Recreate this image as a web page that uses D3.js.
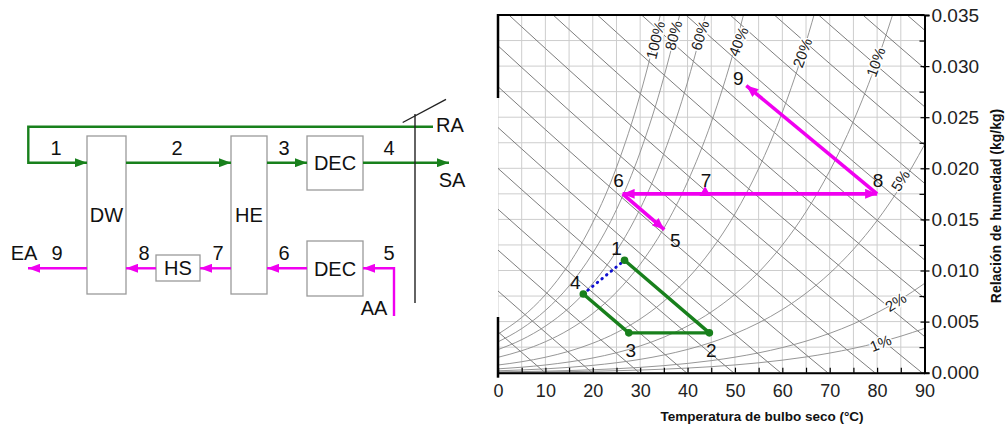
<!DOCTYPE html>
<html><head><meta charset="utf-8">
<script src="https://cdn.jsdelivr.net/npm/d3@7"></script>
<style>
body{margin:0;background:#fff;}
text{font-family:Arial,"Liberation Sans",sans-serif;}
</style>
</head><body>
<svg id="c" width="1005" height="427"></svg>
<script>
// ---------------- DATA ----------------
const xTicks = [0, 10, 20, 30, 40, 50, 60, 70, 80, 90];
const xMinorTicks = [5, 15, 25, 35, 45, 55, 65, 75, 85];
const yTicks = [0, 0.005, 0.010, 0.015, 0.020, 0.025, 0.030, 0.035];
const yTickLabels = ["0.000", "0.005", "0.010", "0.015", "0.020", "0.025", "0.030", "0.035"];
const yMinorTicks = [0.0025, 0.0075, 0.0125, 0.0175, 0.0225, 0.0275, 0.0325];
// saturation pressure of water (kPa) vs temperature (°C), steam tables
const satTemps = [0, 5, 10, 15, 20, 25, 30, 35, 40, 45, 50, 55, 60, 65, 70, 75, 80, 85, 90];
const satPressure = [0.6113, 0.8726, 1.2282, 1.7058, 2.339, 3.169, 4.246, 5.628, 7.384, 9.593, 12.35, 15.76, 19.94, 25.03, 31.19, 38.58, 47.39, 57.83, 70.14];
const rhLevels = [100, 80, 60, 40, 20, 10, 5, 2, 1];
const rhLabelT = [33.2, 37.0, 42.6, 50.7, 64.2, 79.7, 84.9, 83.9, 80.7];
const rhLabelW = [0.03255, 0.0330, 0.0330, 0.0324, 0.0313, 0.0304, 0.0188, 0.0069, 0.0029];
const rhLabelAngle = [-76, -75, -72, -68, -70, -70, -58, -33, -22];
const enthalpyLevels = [10, 20, 30, 40, 50, 60, 70, 80, 90, 100, 110, 120, 130, 140, 150, 160, 170, 180];
const supplyLabels = ["1", "2", "3", "4"];
const supplyT = [26.7, 44.6, 27.6, 18.0];
const supplyW = [0.0110, 0.0039, 0.0039, 0.0077];
const exhaustLabels = ["5", "6", "7", "8", "9"];
const exhaustT = [35.1, 26.3, 43.7, 80.0, 52.4];
const exhaustW = [0.0140, 0.0175, 0.0175, 0.0175, 0.0281];
const P_ATM = 101.325;

// ---------------- SETUP ----------------
const svg = d3.select("#c");
const GREEN = "#18801c", MAG = "#f000f0", BLUE = "#1010d0";
const defs = svg.append("defs");
function arrow(id, color, L, Wd) {
  defs.append("marker").attr("id", id).attr("markerUnits", "userSpaceOnUse")
    .attr("markerWidth", L).attr("markerHeight", Wd).attr("refX", L).attr("refY", Wd / 2)
    .attr("orient", "auto-start-reverse")
    .append("path").attr("d", `M0,0 L${L},${Wd / 2} L0,${Wd} Z`).attr("fill", color);
}
arrow("ag", GREEN, 12, 9);
arrow("am", MAG, 12, 9);
arrow("am2", MAG, 12, 10);

// ---------------- SCHEMATIC ----------------
const sch = svg.append("g");
const boxes = [
  {t: "DW", x: 87, y: 136, w: 39, h: 158},
  {t: "HE", x: 231, y: 136, w: 36, h: 158},
  {t: "DEC", x: 307, y: 136, w: 56, h: 54},
  {t: "DEC", x: 307, y: 241, w: 56, h: 55},
  {t: "HS", x: 156, y: 255, w: 44, h: 26}
];
boxes.forEach(b => {
  sch.append("rect").attr("x", b.x).attr("y", b.y).attr("width", b.w).attr("height", b.h)
    .attr("fill", "#fff").attr("stroke", "#9a9a9a").attr("stroke-width", 1.3);
  sch.append("text").attr("x", b.x + b.w / 2).attr("y", b.y + b.h / 2 + 7.2)
    .attr("text-anchor", "middle").attr("font-size", 20).attr("fill", "#111").text(b.t);
});
const greenPaths = ["M433,126.7 H28.3 V162.7 H87", "M126,162.7 H231", "M267,162.7 H307", "M363,162.7 H449"];
greenPaths.forEach(d => sch.append("path").attr("d", d).attr("fill", "none")
  .attr("stroke", GREEN).attr("stroke-width", 2.4).attr("marker-end", "url(#ag)"));
const magPaths = ["M394,316 V268.3 H363", "M307,268.3 H267", "M231,268.3 H200", "M156,268.3 H126", "M87,268.3 H28"];
magPaths.forEach(d => sch.append("path").attr("d", d).attr("fill", "none")
  .attr("stroke", MAG).attr("stroke-width", 2.4).attr("marker-end", "url(#am)"));
sch.append("line").attr("x1", 415).attr("y1", 114).attr("x2", 415).attr("y2", 303)
  .attr("stroke", "#222").attr("stroke-width", 1.4);
sch.append("line").attr("x1", 402.7).attr("y1", 122.5).attr("x2", 446).attr("y2", 99.3)
  .attr("stroke", "#222").attr("stroke-width", 1.4);
const schLabels = [
  ["1", 56, 155], ["2", 177, 155], ["3", 284, 155], ["4", 389, 155],
  ["RA", 450, 132], ["SA", 452, 187],
  ["EA", 24, 260], ["9", 57, 260], ["8", 144, 260], ["7", 218, 260], ["6", 284, 260], ["5", 389, 260],
  ["AA", 374, 315]
];
schLabels.forEach(l => sch.append("text").attr("x", l[1]).attr("y", l[2])
  .attr("text-anchor", "middle").attr("font-size", 20).attr("fill", "#111").text(l[0]));

// ---------------- CHART ----------------
const X0 = 498, X1 = 924.5, Y0 = 372.7, Y1 = 15;
const x = d3.scaleLinear().domain([0, 90]).range([X0, X1]);
const y = d3.scaleLinear().domain([0, 0.035]).range([Y0, Y1]);

defs.append("clipPath").attr("id", "clip").append("rect")
  .attr("x", X0).attr("y", Y1).attr("width", X1 - X0).attr("height", Y0 - Y1);
const plot = svg.append("g").attr("clip-path", "url(#clip)");

// grid
const gridX = xTicks.concat(xMinorTicks);
plot.selectAll(".gx").data(gridX).enter().append("line")
  .attr("x1", d => x(d)).attr("x2", d => x(d)).attr("y1", Y1).attr("y2", Y0)
  .attr("stroke", "#cdcdcd").attr("stroke-width", 1);
const gridY = yTicks.concat(yMinorTicks);
plot.selectAll(".gy").data(gridY).enter().append("line")
  .attr("y1", d => y(d)).attr("y2", d => y(d)).attr("x1", X0).attr("x2", X1)
  .attr("stroke", "#cdcdcd").attr("stroke-width", 1);

// enthalpy lines
const lineGen = d3.line().x(d => x(d[0])).y(d => y(d[1]));
enthalpyLevels.forEach(h => {
  const pts = satTemps.map(t => [t, (h - 1.006 * t) / (2501 + 1.86 * t)]);
  plot.append("path").attr("d", lineGen(pts)).attr("fill", "none")
    .attr("stroke", "#6e6e6e").attr("stroke-width", 0.9);
});

// relative humidity curves
const curveGen = d3.line().x(d => x(d[0])).y(d => y(d[1])).curve(d3.curveMonotoneX);
rhLevels.forEach(rh => {
  const phi = rh / 100;
  const pts = [];
  for (let i = 0; i < satTemps.length; i++) {
    const pv = phi * satPressure[i];
    const w = 0.622 * pv / (P_ATM - pv);
    pts.push([satTemps[i], w]);
    if (w > 0.05) break;
  }
  plot.append("path").attr("d", curveGen(pts)).attr("fill", "none")
    .attr("stroke", "#8a8a8a").attr("stroke-width", 0.9);
});

// RH labels
rhLevels.forEach((rh, i) => {
  plot.append("text")
    .attr("transform", `translate(${x(rhLabelT[i])},${y(rhLabelW[i])}) rotate(${rhLabelAngle[i]})`)
    .attr("text-anchor", "middle").attr("dy", "0.36em").attr("font-size", 15)
    .attr("fill", "#222").attr("stroke", "#fff").attr("stroke-width", 3)
    .attr("paint-order", "stroke").text(rh + "%");
});

// borders (as in reference)
svg.append("line").attr("x1", X0).attr("x2", X1).attr("y1", Y1).attr("y2", Y1)
  .attr("stroke", "#000").attr("stroke-width", 2);
svg.append("line").attr("x1", X0).attr("x2", X0).attr("y1", Y1 - 1).attr("y2", 98)
  .attr("stroke", "#000").attr("stroke-width", 2.5);
svg.append("line").attr("x1", X0).attr("x2", X0).attr("y1", 317).attr("y2", Y0 + 5)
  .attr("stroke", "#000").attr("stroke-width", 2.5);

// bottom axis
const xAxis = svg.append("g").attr("transform", `translate(0,${Y0})`)
  .call(d3.axisBottom(x).tickValues(xTicks).tickSizeInner(-5).tickSizeOuter(0).tickPadding(12));
xAxis.select(".domain").attr("stroke", "#000").attr("stroke-width", 2);
xAxis.selectAll(".tick line").attr("stroke", "#000").attr("stroke-width", 1.2);
xAxis.selectAll(".tick text").attr("font-size", 18).attr("fill", "#222")
  .attr("font-family", "Arial, 'Liberation Sans', sans-serif");
const xMinor = svg.append("g").attr("transform", `translate(0,${Y0})`)
  .call(d3.axisBottom(x).tickValues(xMinorTicks).tickSizeInner(-5).tickSizeOuter(0).tickFormat(""));
xMinor.select(".domain").remove();
xMinor.selectAll(".tick line").attr("stroke", "#000").attr("stroke-width", 1.2);

// right axis
const yAxis = svg.append("g").attr("transform", `translate(${X1},0)`)
  .call(d3.axisRight(y).tickValues(yTicks).tickSize(5).tickPadding(2)
    .tickFormat((d, i) => yTickLabels[i]));
yAxis.select(".domain").attr("stroke", "#000").attr("stroke-width", 2);
yAxis.selectAll(".tick line").attr("stroke", "#000").attr("stroke-width", 1.2).attr("x1", -4);
yAxis.selectAll(".tick text").attr("font-size", 19).attr("fill", "#222")
  .attr("font-family", "Arial, 'Liberation Sans', sans-serif");
const yMinor = svg.append("g").attr("transform", `translate(${X1},0)`)
  .call(d3.axisRight(y).tickValues(yMinorTicks).tickSize(-5).tickFormat(""));
yMinor.select(".domain").remove();
yMinor.selectAll(".tick line").attr("stroke", "#000").attr("stroke-width", 1.2);

// axis titles
svg.append("text").attr("x", 762).attr("y", 420.5).attr("text-anchor", "middle")
  .attr("font-size", 13.5).attr("font-weight", "bold").attr("fill", "#111")
  .text("Temperatura de bulbo seco (°C)");
svg.append("text").attr("transform", "translate(1001,206) rotate(-90)").attr("text-anchor", "middle")
  .attr("font-size", 14).attr("font-weight", "bold").attr("fill", "#111")
  .text("Relación de humedad (kg/kg)");

// ---- supply air process (green) ----
const sp = supplyT.map((t, i) => [t, supplyW[i]]);
svg.append("path").attr("d", lineGen(sp)).attr("fill", "none")
  .attr("stroke", GREEN).attr("stroke-width", 3.4).attr("stroke-linejoin", "round");
svg.append("path").attr("d", lineGen([sp[3], sp[0]])).attr("fill", "none")
  .attr("stroke", BLUE).attr("stroke-width", 3).attr("stroke-linecap", "round")
  .attr("stroke-dasharray", "0.5,5.5");
svg.selectAll(".sp").data(sp).enter().append("circle")
  .attr("cx", d => x(d[0])).attr("cy", d => y(d[1])).attr("r", 3.8).attr("fill", GREEN);

// ---- exhaust air process (magenta) ----
const ep = exhaustT.map((t, i) => [t, exhaustW[i]]);
const segs = [
  {a: 1, b: 0, start: false, end: true},
  {a: 1, b: 2, start: true, end: false},
  {a: 2, b: 3, start: false, end: true},
  {a: 3, b: 4, start: false, end: true}
];
segs.forEach(s => {
  svg.append("path").attr("d", lineGen([ep[s.a], ep[s.b]])).attr("fill", "none")
    .attr("stroke", MAG).attr("stroke-width", 3.6)
    .attr("marker-end", s.end ? "url(#am2)" : null)
    .attr("marker-start", s.start ? "url(#am2)" : null);
});
svg.append("path").attr("d", d3.symbol(d3.symbolTriangle, 55)())
  .attr("transform", `translate(${x(ep[2][0])},${y(ep[2][1]) - 1})`).attr("fill", MAG);

// point labels
const ptLabelOffsets = [[-8, -5], [2, 24], [2, 24], [-8, -5]];
supplyLabels.forEach((l, i) => {
  svg.append("text").attr("x", x(supplyT[i]) + ptLabelOffsets[i][0]).attr("y", y(supplyW[i]) + ptLabelOffsets[i][1])
    .attr("text-anchor", "middle").attr("font-size", 19).attr("fill", "#111").text(l);
});
const epOffsets = [[11, 17], [-4, -7], [1, -7], [1, -7], [-8, -1]];
exhaustLabels.forEach((l, i) => {
  svg.append("text").attr("x", x(exhaustT[i]) + epOffsets[i][0]).attr("y", y(exhaustW[i]) + epOffsets[i][1])
    .attr("text-anchor", "middle").attr("font-size", 19).attr("fill", "#111").text(l);
});
</script>
</body></html>
